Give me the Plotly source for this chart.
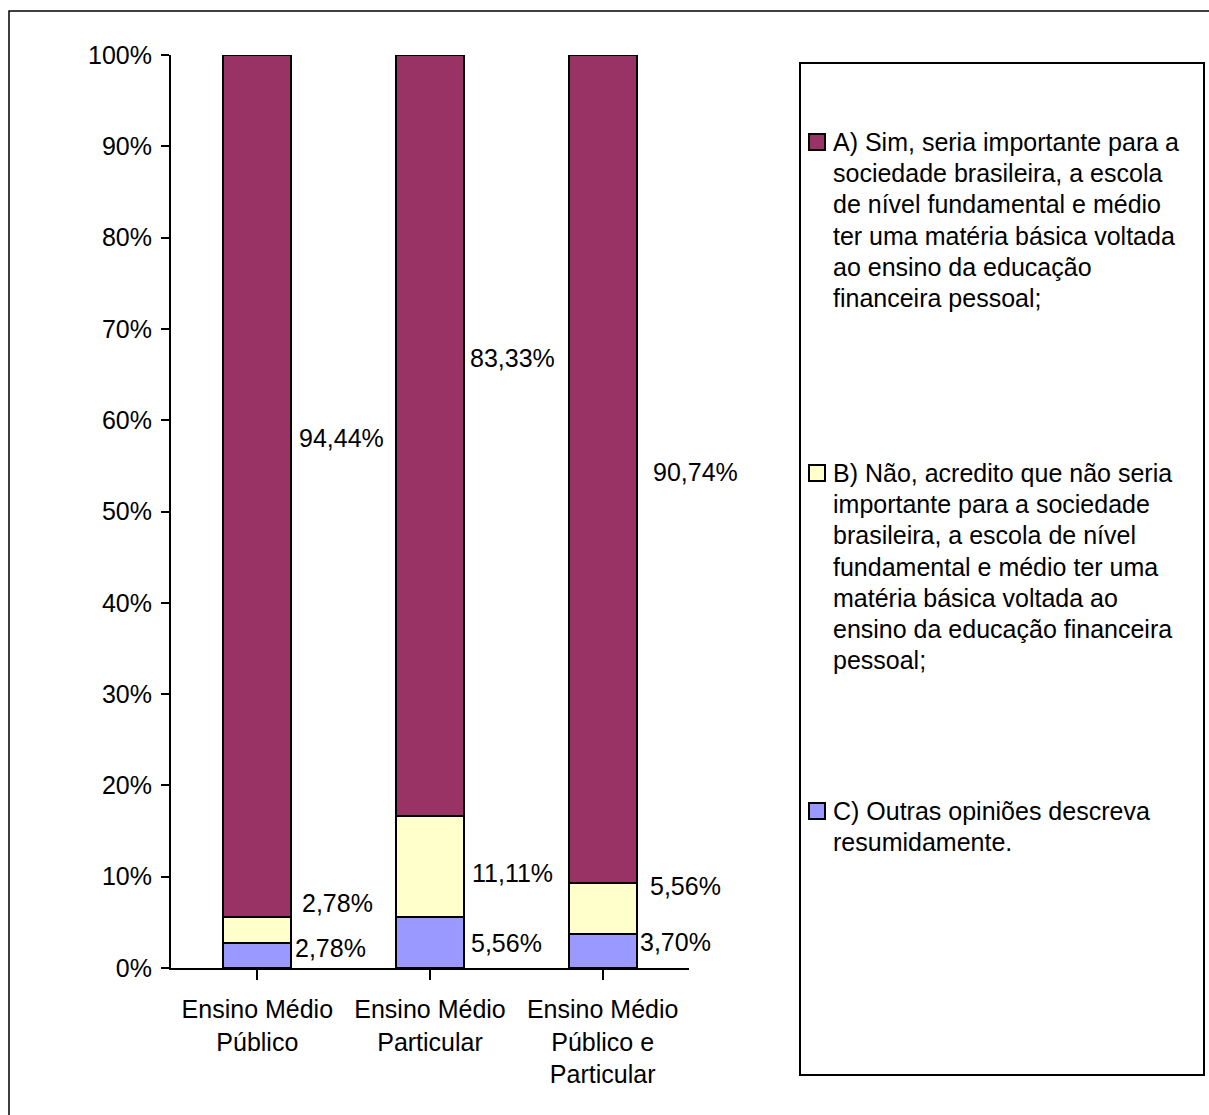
import plotly.graph_objects as go

W, H = 1209, 1115

categories = ["Ensino Médio<br>Público", "Ensino Médio<br>Particular", "Ensino Médio<br>Público e<br>Particular"]
series_names = [
    "C) Outras opiniões descreva<br>resumidamente.",
    "B) Não, acredito que não seria<br>importante para a sociedade<br>brasileira, a escola de nível<br>fundamental e médio ter uma<br>matéria básica voltada ao<br>ensino da educação financeira<br>pessoal;",
    "A) Sim, seria importante para a<br>sociedade brasileira, a escola<br>de nível fundamental e médio<br>ter uma matéria básica voltada<br>ao ensino da educação<br>financeira pessoal;",
]
values_C = [2.78, 5.56, 3.70]
values_B = [2.78, 11.11, 5.56]
values_A = [94.44, 83.33, 90.74]
y_ticks = [0, 10, 20, 30, 40, 50, 60, 70, 80, 90, 100]

colors = ["#9999FF", "#FFFFCC", "#993366"]
series_values = [values_C, values_B, values_A]

# label placement (manual, as in the original chart): y in % units, x offset in px
label_y = [[2.19, 2.74, 2.85], [7.12, 10.41, 8.98], [58.05, 66.81, 54.33]]
label_dx = [[38, 41, 37], [45, 42, 47], [42, 40, 50]]

# legend layout (pixel y of first text line, line spacing)
legend_first_line = [811, 473, 142]
LEG_LINE = 31.2

FONT = "Liberation Sans, Arial, sans-serif"
FS = 25

def px(x):
    return x / W

def py(y):
    return 1 - y / H

fig = go.Figure()
for name, vals, col in zip(series_names, series_values, colors):
    fig.add_trace(go.Bar(
        x=list(range(len(categories))), y=vals, name=name,
        marker=dict(color=col, line=dict(color="black", width=2)),
        width=0.394, showlegend=False, hoverinfo="skip",
    ))

annotations = []
for si, vals in enumerate(series_values):
    for ci, v in enumerate(vals):
        annotations.append(dict(
            x=ci, y=label_y[si][ci], xref="x", yref="y",
            text=f"{v:.2f}".replace(".", ",") + "%",
            showarrow=False, xanchor="left", yanchor="middle",
            xshift=label_dx[si][ci] - 2,
            font=dict(family=FONT, size=FS, color="black"),
        ))

shapes = []
# outer frame
shapes.append(dict(type="rect", xref="paper", yref="paper",
                   x0=px(9), x1=px(1240), y0=py(1140), y1=py(11),
                   line=dict(color="black", width=1.5), fillcolor="rgba(0,0,0,0)"))
# legend box
shapes.append(dict(type="rect", xref="paper", yref="paper",
                   x0=px(800), x1=px(1204), y0=py(1075), y1=py(63),
                   line=dict(color="black", width=2), fillcolor="white", layer="below"))
for name, col, yf in zip(series_names, colors, legend_first_line):
    shapes.append(dict(type="rect", xref="paper", yref="paper",
                       x0=px(809), x1=px(825), y0=py(yf + 8), y1=py(yf - 8),
                       line=dict(color="black", width=2), fillcolor=col))
    for li, line in enumerate(name.split("<br>")):
        annotations.append(dict(
            x=px(831), y=py(yf + li * LEG_LINE), xref="paper", yref="paper",
            text=line, showarrow=False, xanchor="left", yanchor="middle", align="left",
            font=dict(family=FONT, size=FS, color="black"),
        ))

fig.update_layout(
    width=W, height=H,
    margin=dict(l=0, r=0, t=0, b=0, pad=0),
    paper_bgcolor="white", plot_bgcolor="white",
    barmode="stack",
    showlegend=False,
    font=dict(family=FONT, size=FS, color="black"),
    xaxis=dict(
        domain=[px(171), px(689)],
        range=[-0.5, 2.5],
        automargin=False,
        tickmode="array", tickvals=list(range(len(categories))), ticktext=categories,
        ticks="outside", ticklen=10, tickwidth=2, tickcolor="black",
        tickson="boundaries",
        showline=True, linecolor="black", linewidth=2,
        showgrid=False, zeroline=False,
        tickfont=dict(family=FONT, size=FS, color="black"),
        ticklabelstandoff=8,
    ),
    yaxis=dict(
        domain=[py(968), py(55)],
        range=[0, 100],
        automargin=False,
        tickmode="array", tickvals=y_ticks, ticktext=[f"{t}%" for t in y_ticks],
        ticks="outside", ticklen=8, tickwidth=2, tickcolor="black",
        showline=True, linecolor="black", linewidth=2,
        showgrid=False, zeroline=False,
        tickfont=dict(family=FONT, size=FS, color="black"),
        ticklabelstandoff=4,
    ),
    shapes=shapes,
    annotations=annotations,
)

fig.write_html("out.html")
